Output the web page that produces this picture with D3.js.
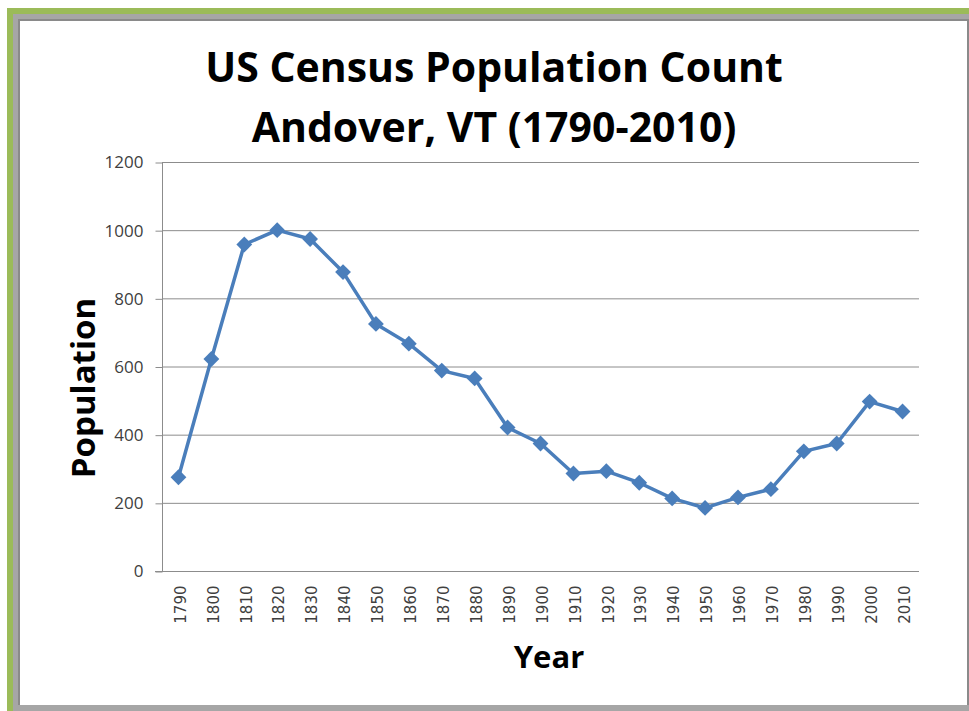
<!DOCTYPE html>
<html>
<head>
<meta charset="utf-8">
<script src="https://cdn.jsdelivr.net/npm/d3@7"></script>
<style>
body { margin: 0; background: #fff; }
svg { display: block; }
</style>
</head>
<body>
<svg width="969" height="711"></svg>
<script>
var years = ["1790", "1800", "1810", "1820", "1830", "1840", "1850", "1860", "1870", "1880", "1890",
	"1900", "1910", "1920", "1930", "1940", "1950", "1960", "1970", "1980", "1990", "2000", "2010"];
var population = [275, 622, 958, 1000, 974, 877, 725, 667, 588, 565, 421,
	374, 286, 293, 259, 213, 185, 216, 240, 351, 374, 497, 468];
var yTicks = [0, 200, 400, 600, 800, 1000, 1200];
var titleLines = ["US Census Population Count", "Andover, VT (1790-2010)"];

var svg = d3.select("svg"),
	margin = { top: 162, right: 50, bottom: 140, left: 162 },
	width = 919 - margin.left,
	height = 571 - margin.top;

// slide frame
svg.append("rect").attr("x", 7).attr("y", 8).attr("width", 962).attr("height", 703).attr("fill", "#9bbb59");
svg.append("rect").attr("x", 13).attr("y", 14).attr("width", 956).attr("height", 697).attr("fill", "#a6a6a6");
svg.append("rect").attr("x", 18).attr("y", 19).attr("width", 951).attr("height", 686).attr("fill", "#8a8a8a");
svg.append("rect").attr("x", 20).attr("y", 21).attr("width", 947).attr("height", 684).attr("fill", "#fff");

var g = svg.append("g").attr("transform", "translate(" + margin.left + "," + margin.top + ")");

var x = d3.scaleBand()
	.domain(years)
	.range([0, width]);

var y = d3.scaleLinear()
	.domain([0, 1200])
	.range([height, 0]);

// gridlines
g.append("g")
	.selectAll("line")
	.data(yTicks.slice(1))
	.enter().append("line")
	.attr("x1", 0)
	.attr("x2", width)
	.attr("y1", function (d) { return y(d) + 0.5; })
	.attr("y2", function (d) { return y(d) + 0.5; })
	.attr("stroke", "#8c8c8c")
	.attr("stroke-width", 1);

var yAxis = g.append("g")
	.attr("transform", "translate(0.5,0.5)")
	.call(d3.axisLeft(y).tickValues(yTicks).tickSize(7).tickPadding(12).tickFormat(d3.format("d")));
yAxis.select(".domain").attr("stroke", "#8c8c8c").attr("d", "M0," + height + "V0");
yAxis.selectAll(".tick line").attr("stroke", "#8c8c8c");
yAxis.selectAll("text")
	.attr("font-family", "Open Sans, sans-serif")
	.attr("font-size", 17)
	.attr("fill", "#404040");

var xAxis = g.append("g")
	.attr("transform", "translate(0," + (height + 0.5) + ")")
	.call(d3.axisBottom(x).tickSize(0));
xAxis.select(".domain").attr("stroke", "#8c8c8c").attr("d", "M-7,0H" + width);
xAxis.selectAll("text")
	.attr("font-family", "DejaVu Sans, sans-serif")
	.attr("font-size", 15)
	.attr("fill", "#404040")
	.attr("text-anchor", "end")
	.attr("transform", "rotate(-90)")
	.attr("x", -14)
	.attr("y", 2)
	.attr("dy", "0.35em");

var line = d3.line()
	.x(function (d, i) { return x(years[i]) + x.bandwidth() / 2; })
	.y(function (d) { return y(d); });

g.append("path")
	.datum(population)
	.attr("fill", "none")
	.attr("stroke", "#4a7ebb")
	.attr("stroke-width", 3.5)
	.attr("stroke-linejoin", "round")
	.attr("d", line);

g.append("g")
	.selectAll("path")
	.data(population)
	.enter().append("path")
	.attr("d", d3.symbol().type(d3.symbolSquare).size(125))
	.attr("transform", function (d, i) {
		return "translate(" + (x(years[i]) + x.bandwidth() / 2) + "," + y(d) + ") rotate(45)";
	})
	.attr("fill", "#4a7ebb");

// titles
svg.append("g")
	.attr("font-family", "Open Sans, sans-serif")
	.attr("font-weight", "bold")
	.attr("font-size", 41)
	.attr("text-anchor", "middle")
	.attr("fill", "#000")
	.selectAll("text")
	.data(titleLines)
	.enter().append("text")
	.attr("x", 494)
	.attr("y", function (d, i) { return 82 + i * 60; })
	.text(function (d) { return d; });

svg.append("text")
	.attr("font-family", "Open Sans, sans-serif")
	.attr("font-weight", "bold")
	.attr("font-size", 33)
	.attr("text-anchor", "middle")
	.attr("transform", "translate(95,388) rotate(-90)")
	.text("Population");

svg.append("text")
	.attr("font-family", "Open Sans, sans-serif")
	.attr("font-weight", "bold")
	.attr("font-size", 31)
	.attr("text-anchor", "middle")
	.attr("x", 549)
	.attr("y", 668)
	.text("Year");
</script>
</body>
</html>
